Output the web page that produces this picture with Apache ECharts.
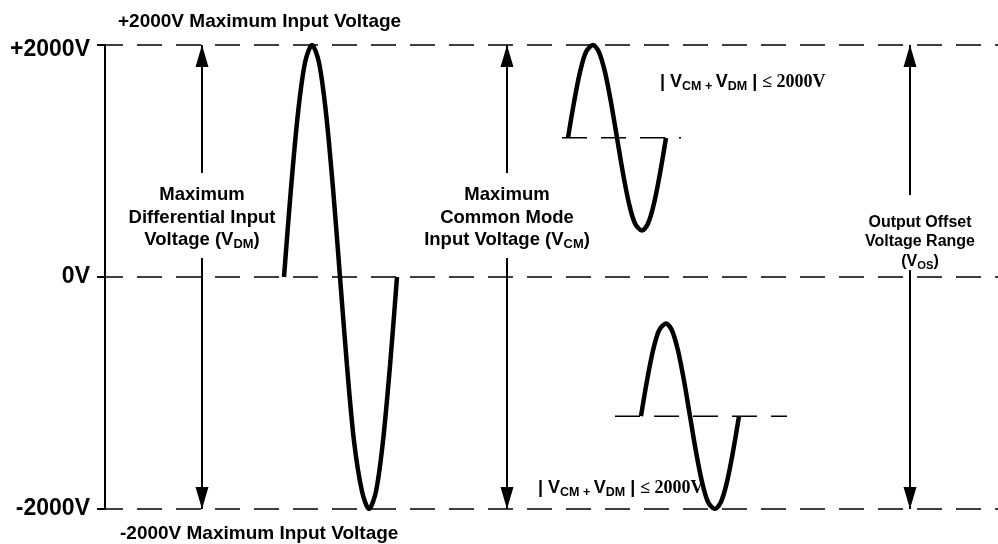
<!DOCTYPE html>
<html><head><meta charset="utf-8">
<script src="https://cdn.jsdelivr.net/npm/echarts@6/dist/echarts.min.js"></script>
<style>html,body{margin:0;padding:0;background:#fff}#c{width:998px;height:544px}</style>
</head><body><div id="c"></div>
<script>
// ---- data (voltage in V, time in arbitrary units) ----
const yTickValues = [-2000, 0, 2000];
const yTickLabels = ['-2000V', '0V', '+2000V'];

const diffWaveT = [179, 186, 193, 200, 207, 214, 221, 228, 235, 242, 249, 257, 264, 271, 278, 285, 292];
const diffWaveV = [0, 765, 1414, 1848, 2000, 1848, 1414, 765, 0, -765, -1414, -1848, -2000, -1848, -1414, -765, 0];

const posWaveT = [463, 469, 475, 481, 488, 494, 500, 506, 512, 518, 524, 530, 537, 543, 549, 555, 561];
const posWaveV = [1200, 1506, 1766, 1939, 2000, 1939, 1766, 1506, 1200, 894, 634, 461, 400, 461, 634, 894, 1200];

const negWaveT = [536, 542, 548, 554, 561, 567, 573, 579, 585, 591, 597, 603, 610, 616, 622, 628, 634];
const negWaveV = [-1200, -894, -634, -461, -400, -461, -634, -894, -1200, -1506, -1766, -1939, -2000, -1939, -1766, -1506, -1200];

const posCenterT = [457, 576];
const posCenterV = [1200, 1200];
const negCenterT = [510, 682];
const negCenterV = [-1200, -1200];

const arrowT = [97, 402, 805];
const arrowTopV = [2000, 2000, 2000];
const arrowBottomV = [-2000, -2000, -2000];
const arrowGapTopV = [897, 897, 707];
const arrowGapBottomV = [164, 164, 60];

const topTitle = '+2000V Maximum Input Voltage';
const bottomTitle = '-2000V Maximum Input Voltage';

// ---- build ----
const zip = (a, b) => a.map((v, i) => [v, b[i]]);
const SANS = 'Liberation Sans, Arial, sans-serif';
const SERIF = 'Liberation Serif, Times New Roman, serif';

const series = [];
const waveStyle = { color: '#000', width: 4.5 };
[[diffWaveT, diffWaveV], [posWaveT, posWaveV], [negWaveT, negWaveV]].forEach(([t, v]) => {
  series.push({ type: 'line', data: zip(t, v), smooth: 0.3, symbol: 'none', lineStyle: waveStyle, silent: true, z: 5 });
});
[[posCenterT, posCenterV], [negCenterT, negCenterV]].forEach(([t, v]) => {
  series.push({ type: 'line', data: zip(t, v), symbol: 'none', silent: true, z: 3,
    lineStyle: { color: '#000', width: 1.5, type: [25, 14] } });
});
arrowT.forEach((t, i) => {
  series.push({ type: 'line', data: [[t, arrowTopV[i]], [t, arrowGapTopV[i]]], symbol: 'none', silent: true,
    lineStyle: { color: '#000', width: 2 }, z: 4 });
  series.push({ type: 'line', data: [[t, arrowGapBottomV[i]], [t, arrowBottomV[i]]], symbol: 'none', silent: true,
    lineStyle: { color: '#000', width: 2 }, z: 4 });
});
series.push({ type: 'scatter', data: arrowT.map((t, i) => [t, arrowTopV[i]]), symbol: 'triangle',
  symbolSize: [13, 22], symbolOffset: [0, '50%'], itemStyle: { color: '#000', opacity: 1 }, silent: true, z: 6 });
series.push({ type: 'scatter', data: arrowT.map((t, i) => [t, arrowBottomV[i]]), symbol: 'triangle',
  symbolSize: [13, 22], symbolRotate: 180, symbolOffset: [0, '-50%'], itemStyle: { color: '#000', opacity: 1 }, silent: true, z: 6 });

function blockText(x, y, text, fs, lh) {
  return { type: 'text', x: x, y: y, silent: true, z: 10,
    style: { text: text, fontFamily: SANS, fontWeight: 'bold', fontSize: fs, lineHeight: lh, fill: '#000',
      align: 'center', verticalAlign: 'middle', textAlign: 'center', textVerticalAlign: 'middle',
      rich: { s: { fontFamily: SANS, fontWeight: 'bold', fontSize: fs * 0.7, lineHeight: lh * 0.6, verticalAlign: 'bottom', fill: '#000' } } } };
}
function formula(x, y) {
  return { type: 'text', x: x, y: y, silent: true, z: 10,
    style: { text: '{m|| V}{s|CM + }{m|V}{s|DM}{m| | }{t|≤ 2000V}', fill: '#000',
      align: 'left', verticalAlign: 'middle', textAlign: 'left', textVerticalAlign: 'middle',
      rich: {
        m: { fontFamily: SANS, fontWeight: 'bold', fontSize: 18, lineHeight: 22, fill: '#000' },
        s: { fontFamily: SANS, fontWeight: 'bold', fontSize: 12.5, lineHeight: 15, verticalAlign: 'bottom', fill: '#000' },
        t: { fontFamily: SERIF, fontWeight: 'bold', fontSize: 18, lineHeight: 22, fill: '#000' }
      } } };
}
function titleText(x, y, text) {
  return { type: 'text', x: x, y: y, silent: true, z: 10,
    style: { text: text, fontFamily: SANS, fontWeight: 'bold', fontSize: 19, fill: '#000',
      align: 'left', verticalAlign: 'middle', textAlign: 'left', textVerticalAlign: 'middle' } };
}

const option = {
  backgroundColor: '#fff',
  animation: false,
  grid: { left: 105, right: 0, top: 45, bottom: 35, containLabel: false },
  xAxis: { type: 'value', min: 0, max: 893, show: false, splitLine: { show: false } },
  yAxis: {
    type: 'value', min: -2000, max: 2000, interval: 2000,
    axisLine: { show: true, lineStyle: { color: '#000', width: 2 } },
    axisTick: { show: true, length: 8, lineStyle: { color: '#000', width: 2 } },
    axisLabel: {
      margin: 15, color: '#000', fontFamily: SANS, fontWeight: 'bold', fontSize: 23,
      formatter: v => {
        const idx = yTickValues.indexOf(v);
        const lab = idx >= 0 ? yTickLabels[idx] : '';
        return v === 2000 ? '{d|' + lab + '}' : lab;
      },
      rich: { d: { fontFamily: SANS, fontWeight: 'bold', fontSize: 23, color: '#000', padding: [10, 0, 0, 0] } }
    },
    splitLine: { show: true, showMinLine: true, showMaxLine: true,
      lineStyle: { color: '#000', width: 1.5, type: [25, 14], dashOffset: 7 } }
  },
  series: series,
  graphic: [
    titleText(118, 22, topTitle),
    titleText(120, 534, bottomTitle),
    blockText(202, 217.5, 'Maximum\nDifferential Input\nVoltage (V{s|DM})', 18.5, 22.5),
    blockText(507, 217.5, 'Maximum\nCommon Mode\nInput Voltage (V{s|CM})', 18.5, 22.5),
    blockText(920, 242, 'Output Offset\nVoltage Range\n(V{s|OS})', 16, 19.5),
    formula(660, 82),
    formula(538, 488)
  ]
};
const chart = echarts.init(document.getElementById('c'), null, { renderer: 'canvas' });
chart.setOption(option);
</script>
</body></html>
